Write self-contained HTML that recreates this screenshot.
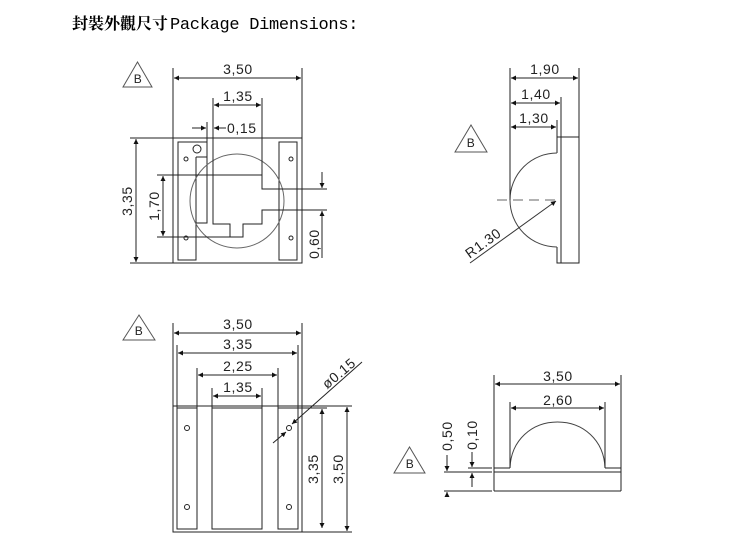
<!DOCTYPE html>
<html><head><meta charset="utf-8">
<style>
html,body{margin:0;padding:0;background:#fff;}
svg{display:block;}
text{font-family:"Liberation Sans",sans-serif;font-size:14px;fill:#222;letter-spacing:0.6px;}
.m{text-anchor:middle;}
</style></head><body>
<svg width="750" height="543" viewBox="0 0 750 543" xmlns="http://www.w3.org/2000/svg">
<defs>
<marker id="a" viewBox="0 0 10 10" refX="10" refY="5" markerWidth="8" markerHeight="5" orient="auto-start-reverse" markerUnits="userSpaceOnUse"><path d="M0,0 L10,5 L0,10z" fill="#111"/></marker>
</defs>
<text x="72" y="29" style="font-family:'Noto Serif CJK SC','Noto Sans CJK TC',serif;font-size:16px;fill:#000;letter-spacing:0;font-weight:bold">封裝外觀尺寸</text>
<text x="170" y="29" style="font-family:'Liberation Mono',monospace;font-size:17px;fill:#000;letter-spacing:-0.3px">Package Dimensions:</text>

<g stroke="#222" stroke-width="1" fill="none">
<path d="M123,87 L137.5,62 L152,87Z" stroke="#555"/>
<path d="M455,152 L471,125 L487,152Z" stroke="#555"/>
<path d="M123,340 L139,315 L155,340Z" stroke="#555"/>
<path d="M394,473 L409.5,447 L425,473Z" stroke="#555"/>

<!-- VIEW 1 -->
<rect x="173" y="138" width="129" height="125"/>
<path d="M178,142 L207,142 L207,223 L196,223 L196,260 L178,260Z"/>
<path d="M196,157 L207,157 M196,157 L196,223"/>
<rect x="279" y="142" width="18" height="118"/>
<circle cx="237" cy="201" r="47" stroke="#666"/>
<path d="M213,175 L262,175 L262,189 L279,189 M279,210 L262,210 L262,224 L243,224 L243,237 L230,237 L230,224 L213,224 L213,175"/>
<circle cx="197" cy="149" r="4"/>
<circle cx="186" cy="159" r="2"/><circle cx="186" cy="238" r="2"/>
<circle cx="291" cy="159" r="2"/><circle cx="291" cy="238" r="2"/>
<path d="M173,68 L173,138 M302,68 L302,138"/>
<path d="M174,78 L301,78" marker-start="url(#a)" marker-end="url(#a)"/>
<path d="M213,98 L213,175 M262,98 L262,175"/>
<path d="M214,105 L261,105" marker-start="url(#a)" marker-end="url(#a)"/>
<path d="M207,122 L207,142"/>
<path d="M192,128 L206,128" marker-end="url(#a)"/>
<path d="M226,128 L214,128" marker-end="url(#a)"/>
<path d="M130,138 L173,138 M130,263 L173,263"/>
<path d="M136,139 L136,262" marker-start="url(#a)" marker-end="url(#a)"/>
<path d="M157,175 L213,175 M157,237 L230,237"/>
<path d="M163,176 L163,236" marker-start="url(#a)" marker-end="url(#a)"/>
<path d="M279,189 L327,189 M279,210 L327,210"/>
<path d="M322,172 L322,188" marker-end="url(#a)"/>
<path d="M322,258 L322,211" marker-end="url(#a)"/>

<!-- VIEW 2 -->
<rect x="561" y="137" width="18" height="126"/>
<path d="M561,137 L557,137 L557,153 M561,263 L557,263 L557,247"/>
<path d="M557,153 A47,47 0 0 0 557,247" stroke="#444"/>
<path d="M497,200 L557,200" stroke="#666" stroke-dasharray="10,6"/>
<path d="M470,263 L556,201" marker-end="url(#a)" stroke="#333"/>
<path d="M510,68 L510,200 M579,68 L579,137 M561,97 L561,137 M557,120 L557,137"/>
<path d="M511,78 L578,78" marker-start="url(#a)" marker-end="url(#a)"/>
<path d="M511,103 L560,103" marker-start="url(#a)" marker-end="url(#a)"/>
<path d="M511,127 L556,127" marker-start="url(#a)" marker-end="url(#a)"/>

<!-- VIEW 3 -->
<rect x="173" y="406" width="129" height="126"/>
<rect x="177" y="408" width="20" height="121"/>
<rect x="212" y="408" width="50" height="121"/>
<rect x="278" y="408" width="20" height="121"/>
<circle cx="187" cy="428" r="2.5"/><circle cx="187" cy="507" r="2.5"/>
<circle cx="289" cy="428" r="2.5"/><circle cx="289" cy="507" r="2.5"/>
<path d="M173,323 L173,406 M302,323 L302,406 M177,345 L177,408 M298,345 L298,408 M197,368 L197,408 M278,368 L278,408 M212,388 L212,408 M262,388 L262,408"/>
<path d="M174,333 L301,333" marker-start="url(#a)" marker-end="url(#a)"/>
<path d="M178,353 L297,353" marker-start="url(#a)" marker-end="url(#a)"/>
<path d="M198,375 L277,375" marker-start="url(#a)" marker-end="url(#a)"/>
<path d="M213,396 L261,396" marker-start="url(#a)" marker-end="url(#a)"/>
<path d="M362,362 L292,424" marker-end="url(#a)"/>
<path d="M273,443 L286,432" marker-end="url(#a)"/>
<path d="M302,406 L352,406 M298,408 L327,408 M302,532 L352,532"/>
<path d="M322,409 L322,528" marker-start="url(#a)" marker-end="url(#a)"/>
<path d="M347,407 L347,531" marker-start="url(#a)" marker-end="url(#a)"/>

<!-- VIEW 4 -->
<path d="M494,468 L510,468 M605,468 L621,468 M494,468 L494,491 M621,468 L621,491 M494,472 L621,472 M494,491 L621,491"/>
<path d="M510,468 C511,440 532,422 557.5,422 C583,422 604,440 605,468" stroke="#444"/>
<path d="M494,375 L494,468 M621,375 L621,468 M510,402 L510,468 M605,402 L605,468"/>
<path d="M495,384 L620,384" marker-start="url(#a)" marker-end="url(#a)"/>
<path d="M511,408 L604,408" marker-start="url(#a)" marker-end="url(#a)"/>
<path d="M444,472 L492,472 M444,491 L492,491 M468,468 L492,468"/>
<path d="M447,455 L447,471" marker-end="url(#a)"/>
<path d="M447,497 L447,492" marker-end="url(#a)"/>
<path d="M472,452 L472,467" marker-end="url(#a)"/>
<path d="M472,487 L472,473" marker-end="url(#a)"/>
</g>

<g>
<text class="m" x="138" y="83" style="font-size:12px">B</text>
<text class="m" x="471" y="147" style="font-size:12px">B</text>
<text class="m" x="139" y="335" style="font-size:12px">B</text>
<text class="m" x="410" y="468" style="font-size:12px">B</text>
<text class="m" x="238" y="74">3,50</text>
<text class="m" x="238" y="101">1,35</text>
<text x="227" y="133">0,15</text>
<text class="m" transform="translate(132,201) rotate(-90)">3,35</text>
<text class="m" transform="translate(159,206) rotate(-90)">1,70</text>
<text class="m" transform="translate(319,244) rotate(-90)">0,60</text>
<text class="m" x="545" y="74">1,90</text>
<text class="m" x="536" y="99">1,40</text>
<text class="m" x="534" y="123">1,30</text>
<text class="m" transform="translate(486,247) rotate(-36)">R1.30</text>
<text class="m" x="238" y="329">3,50</text>
<text class="m" x="238" y="349">3,35</text>
<text class="m" x="238" y="371">2,25</text>
<text class="m" x="238" y="392">1,35</text>
<text class="m" transform="translate(342,377) rotate(-40)">ø0.15</text>
<text class="m" transform="translate(318,469) rotate(-90)">3,35</text>
<text class="m" transform="translate(343,469) rotate(-90)">3,50</text>
<text class="m" x="558" y="381">3,50</text>
<text class="m" x="558" y="405">2,60</text>
<text class="m" transform="translate(452,436) rotate(-90)">0,50</text>
<text class="m" transform="translate(477,435) rotate(-90)">0,10</text>
</g>
</svg>
</body></html>
